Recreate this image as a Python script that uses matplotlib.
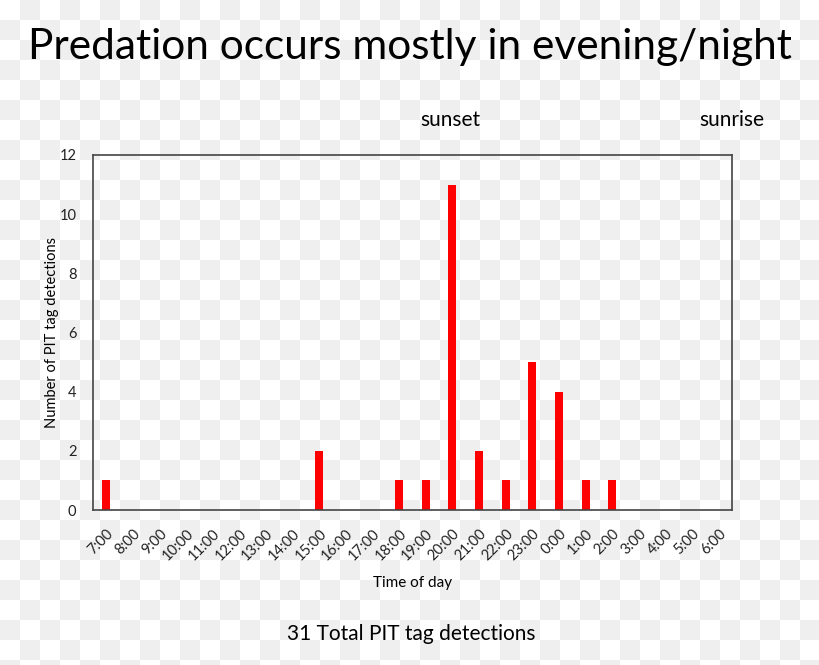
import matplotlib.pyplot as plt
import numpy as np

hours = ['7:00', '8:00', '9:00', '10:00', '11:00', '12:00', '13:00', '14:00',
         '15:00', '16:00', '17:00', '18:00', '19:00', '20:00', '21:00', '22:00',
         '23:00', '0:00', '1:00', '2:00', '3:00', '4:00', '5:00', '6:00']
detections = [1, 0, 0, 0, 0, 0, 0, 0,
              2, 0, 0, 1, 1, 11, 2, 1,
              5, 4, 1, 1, 0, 0, 0, 0]

plt.rcParams['font.family'] = ['Lato', 'DejaVu Sans']

fig = plt.figure(figsize=(8.2, 6.65), dpi=100)

# checkerboard background like the source image
bg = fig.add_axes([0, 0, 1, 1], zorder=-10)
nx, ny = 41, 34
board = (np.add.outer(np.arange(ny), np.arange(nx)) % 2)
bg.imshow(board, cmap='gray_r', vmin=0, vmax=16, extent=[0, 820, 680, 0],
          interpolation='nearest', aspect='auto')
bg.set_xlim(0, 820)
bg.set_ylim(665, 0)
bg.axis('off')

ax = fig.add_axes([93 / 820, 1 - 510 / 665, 639 / 820, 355 / 665])
ax.patch.set_alpha(0)
x = np.arange(len(hours))
ax.bar(x, detections, width=0.3, color='#ff0000')
ax.set_xlim(-0.5, len(hours) - 0.5)
ax.set_ylim(0, 12)
ax.set_yticks(range(0, 13, 2))
ax.set_xticks(x)
ax.set_xticklabels(hours, rotation=45, ha='right', rotation_mode='anchor')
ax.tick_params(length=0, labelsize=10.5, colors='#222222')
ax.tick_params(axis='x', pad=12)
ax.tick_params(axis='y', pad=12)
for s in ax.spines.values():
    s.set_color('#444444')
    s.set_linewidth(1.2)
ax.set_ylabel('Number of PIT tag detections', fontsize=10.5, labelpad=0)
ax.set_xlabel('Time of day', fontsize=11, labelpad=9)

fig.text(0.5, 1 - 47 / 665, 'Predation occurs mostly in evening/night',
         ha='center', va='center', fontsize=30.5)
fig.text(450 / 820, 1 - 120 / 665, 'sunset', ha='center', va='center', fontsize=15)
fig.text(732 / 820, 1 - 120 / 665, 'sunrise', ha='center', va='center', fontsize=15)
fig.text(411 / 820, 1 - 634 / 665, '31 Total PIT tag detections',
         ha='center', va='center', fontsize=15)

fig.savefig('out.png', dpi=100)
